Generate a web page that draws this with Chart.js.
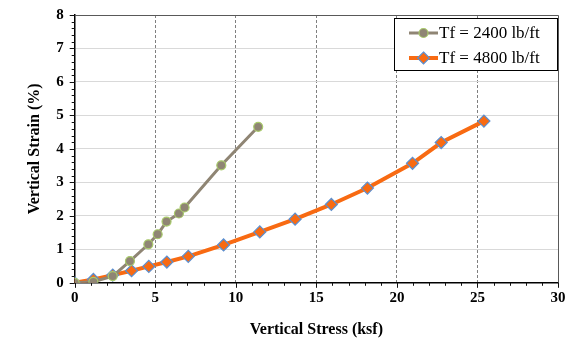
<!DOCTYPE html>
<html>
<head>
<meta charset="utf-8">
<script src="https://cdn.jsdelivr.net/npm/chart.js@4/dist/chart.umd.min.js"></script>
<style>
html,body{margin:0;padding:0;background:#fff;}
#wrap{width:575px;height:342px;position:relative;}
</style>
</head>
<body>
<div id="wrap"><canvas id="strainChart"></canvas></div>
<script>
const seriesNames = ["Tf = 2400 lb/ft", "Tf = 4800 lb/ft"];

const stress2400 = [0, 1.16, 2.36, 3.43, 4.57, 5.15, 5.7, 6.47, 6.82, 9.1, 11.39];
const strain2400 = [0, 0.03, 0.2, 0.65, 1.15, 1.45, 1.83, 2.07, 2.25, 3.51, 4.66];

const stress4800 = [0, 1.16, 2.36, 3.53, 4.6, 5.72, 7.05, 9.24, 11.49, 13.68, 15.93, 18.17, 20.97, 22.75, 25.4];
const strain4800 = [0, 0.1, 0.23, 0.36, 0.49, 0.62, 0.79, 1.13, 1.52, 1.9, 2.34, 2.83, 3.57, 4.19, 4.83];

const xTickLabels = [0, 5, 10, 15, 20, 25, 30];
const yTickLabels = [0, 1, 2, 3, 4, 5, 6, 7, 8];

const serif = "'Liberation Serif', 'Times New Roman', serif";
Chart.defaults.font.family = serif;
Chart.defaults.color = "#000";

function pts(xs, ys){
    return xs.map((x, i) => ({x: x, y: ys[i]}));
}

function isLabel(v, list){
    return list.some(t => Math.abs(t - v) < 1e-6);
}

// top + right frame of plot area, plus outward tick marks on both axes
const framePlugin = {
    id: "frame",
    beforeDatasetsDraw(chart){
        const {ctx, chartArea: a, scales} = chart;
        ctx.save();
        ctx.strokeStyle = "#595959";
        ctx.lineWidth = 1;
        ctx.beginPath();
        ctx.moveTo(a.left, a.top + 0.5);
        ctx.lineTo(a.right + 0.5, a.top + 0.5);
        ctx.lineTo(a.right + 0.5, a.bottom);
        ctx.stroke();

        ctx.strokeStyle = "#111";
        ctx.beginPath();
        scales.x.ticks.forEach(t => {
            const px = Math.round(scales.x.getPixelForValue(t.value)) + 0.5;
            const len = isLabel(t.value, xTickLabels) ? 5 : 3;
            ctx.moveTo(px, a.bottom);
            ctx.lineTo(px, a.bottom + len);
        });
        scales.y.ticks.forEach(t => {
            const py = Math.round(scales.y.getPixelForValue(t.value)) + 0.5;
            const len = isLabel(t.value, yTickLabels) ? 5 : 3;
            ctx.moveTo(a.left, py);
            ctx.lineTo(a.left - len, py);
        });
        ctx.stroke();
        ctx.restore();
    }
};

// boxed legend with line + marker samples
const boxLegend = {
    id: "boxLegend",
    afterDraw(chart){
        const ctx = chart.ctx;
        const a = chart.chartArea;
        const w = 164, h = 53;
        const x0 = a.right - w, y0 = a.top + 3;
        ctx.save();
        ctx.fillStyle = "#fff";
        ctx.fillRect(x0, y0, w, h);
        ctx.strokeStyle = "#000";
        ctx.lineWidth = 1;
        ctx.strokeRect(x0 + 0.5, y0 + 0.5, w - 1, h - 1);
        chart.data.datasets.forEach((ds, i) => {
            const cy = y0 + 15 + i * 25;
            const mx = x0 + 29.5;
            ctx.strokeStyle = ds.borderColor;
            ctx.lineWidth = ds.borderWidth;
            ctx.beginPath();
            ctx.moveTo(x0 + 15, cy);
            ctx.lineTo(x0 + 44, cy);
            ctx.stroke();
            ctx.fillStyle = ds.pointBackgroundColor;
            ctx.strokeStyle = ds.pointBorderColor;
            ctx.lineWidth = ds.pointBorderWidth;
            ctx.beginPath();
            if (ds.pointStyle === "rectRot") {
                const r = ds.pointRadius;
                ctx.moveTo(mx, cy - r);
                ctx.lineTo(mx + r, cy);
                ctx.lineTo(mx, cy + r);
                ctx.lineTo(mx - r, cy);
                ctx.closePath();
            } else {
                ctx.arc(mx, cy, ds.pointRadius, 0, Math.PI * 2);
            }
            ctx.fill();
            ctx.stroke();
            ctx.fillStyle = "#000";
            ctx.font = "17px " + serif;
            ctx.textBaseline = "middle";
            ctx.textAlign = "left";
            ctx.fillText(ds.label, x0 + 45, cy + 1);
        });
        ctx.restore();
    }
};

new Chart(document.getElementById("strainChart"), {
    type: "scatter",
    data: {
        datasets: [{
            label: seriesNames[0],
            data: pts(stress2400, strain2400),
            showLine: true,
            borderColor: "#8F8574",
            backgroundColor: "#8F8574",
            borderWidth: 3,
            pointStyle: "circle",
            pointRadius: 4.5,
            pointBackgroundColor: "#8F8574",
            pointBorderColor: "#A9CB6B",
            pointBorderWidth: 1.2,
            tension: 0
        }, {
            label: seriesNames[1],
            data: pts(stress4800, strain4800),
            showLine: true,
            borderColor: "#F86A12",
            backgroundColor: "#F86A12",
            borderWidth: 4,
            pointStyle: "rectRot",
            pointRadius: 6,
            pointBackgroundColor: "#F86A12",
            pointBorderColor: "#5B8FD0",
            pointBorderWidth: 1.2,
            tension: 0
        }]
    },
    options: {
        responsive: true,
        maintainAspectRatio: false,
        animation: false,
        layout: {
            padding: {top: 6, right: 17, left: 25, bottom: 3}
        },
        plugins: {
            legend: {display: false},
            tooltip: {enabled: false}
        },
        scales: {
            x: {
                type: "linear",
                min: 0,
                max: 30,
                ticks: {
                    stepSize: 1,
                    autoSkip: false,
                    maxRotation: 0,
                    padding: 1,
                    font: {size: 15, weight: "bold"},
                    callback: v => isLabel(v, xTickLabels) ? Math.round(v) : ""
                },
                grid: {
                    color: c => {
                        const v = c.tick ? c.tick.value : 0;
                        return (isLabel(v, xTickLabels) && v > 0 && v < 30) ? "#7f7f7f" : "rgba(0,0,0,0)";
                    },
                    lineWidth: 1,
                    tickColor: "rgba(0,0,0,0)",
                    tickLength: 5
                },
                border: {color: "#000", width: 1.5, dash: [3, 2]},
                title: {
                    display: true,
                    text: "Vertical Stress (ksf)",
                    font: {size: 16, weight: "bold"},
                    padding: {top: 12, bottom: 0}
                }
            },
            y: {
                min: 0,
                max: 8,
                ticks: {
                    stepSize: 0.2,
                    autoSkip: false,
                    padding: 6,
                    font: {size: 15, weight: "bold"},
                    callback: v => isLabel(v, yTickLabels) ? Math.round(v) : ""
                },
                grid: {
                    color: c => {
                        const v = c.tick ? c.tick.value : 0;
                        return (isLabel(v, yTickLabels) && v > 0.1 && v < 7.9) ? "#d9d9d9" : "rgba(0,0,0,0)";
                    },
                    lineWidth: 1,
                    tickColor: "rgba(0,0,0,0)",
                    tickLength: 5
                },
                border: {color: "#000", width: 1.5},
                title: {
                    display: true,
                    text: "Vertical Strain (%)",
                    font: {size: 16, weight: "bold"},
                    padding: {top: 0, bottom: 6}
                }
            }
        }
    },
    plugins: [framePlugin, boxLegend]
});
</script>
</body>
</html>
